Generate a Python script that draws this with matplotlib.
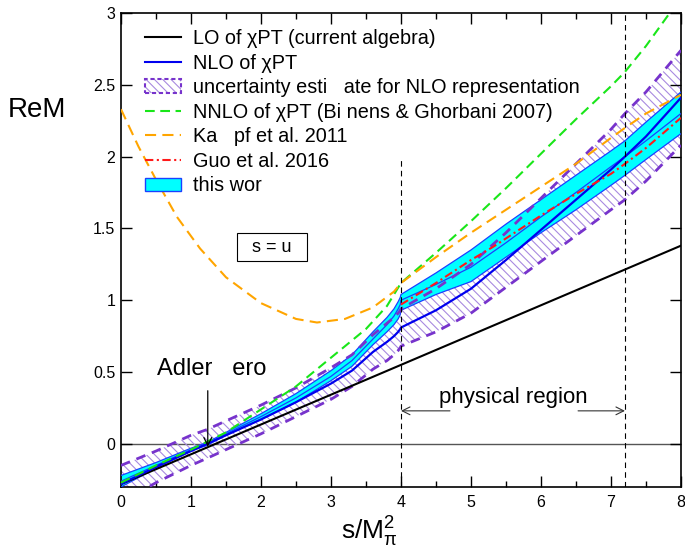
import matplotlib
matplotlib.use('Agg')
import matplotlib.pyplot as plt
from matplotlib.lines import Line2D
from matplotlib.patches import Patch
from matplotlib.legend_handler import HandlerTuple

plt.rcParams['font.family'] = ['Liberation Sans', 'DejaVu Sans']
plt.rcParams['mathtext.fontset'] = 'custom'
plt.rcParams['mathtext.rm'] = 'Liberation Sans'
plt.rcParams['mathtext.it'] = 'Liberation Sans:italic'
plt.rcParams['lines.scale_dashes'] = False
plt.rcParams['hatch.linewidth'] = 0.8

# ---------------- data ----------------
lo_x = [0.0, 8.0]
lo_y = [-0.28, 1.38]

s_grid = [0.0, 0.5, 1.0, 1.23, 1.5, 2.0, 2.5, 3.0, 3.3, 3.6, 3.8, 3.9, 3.96, 3.99,
          4.0, 4.5, 5.0, 5.5, 6.0, 6.5, 7.0, 7.2, 7.5, 8.0]
nlo_y = [-0.28, -0.16, -0.05, 0.0, 0.06, 0.17, 0.29, 0.42, 0.51, 0.64, 0.71, 0.75, 0.78, 0.80,
         0.81, 0.93, 1.08, 1.28, 1.49, 1.70, 1.91, 2.00, 2.14, 2.41]
unc_upper = [-0.15, -0.05, 0.06, 0.10, 0.16, 0.27, 0.39, 0.53, 0.62, 0.76, 0.84, 0.88, 0.91, 0.93,
             0.94, 1.08, 1.25, 1.47, 1.71, 1.95, 2.19, 2.30, 2.45, 2.74]
unc_lower = [-0.41, -0.27, -0.15, -0.10, -0.04, 0.07, 0.19, 0.31, 0.40, 0.52, 0.58, 0.62, 0.65, 0.67,
             0.68, 0.78, 0.91, 1.09, 1.27, 1.45, 1.63, 1.70, 1.83, 2.08]
tw_upper = [-0.22, -0.13, -0.03, 0.01, 0.08, 0.21, 0.35, 0.51, 0.62, 0.78, 0.88, 0.94, 0.99, 1.02,
            1.04, 1.19, 1.35, 1.53, 1.70, 1.87, 2.04, 2.11, 2.24, 2.45]
tw_center = [-0.26, -0.15, -0.04, 0.0, 0.07, 0.19, 0.32, 0.47, 0.58, 0.73, 0.83, 0.89, 0.94, 0.97,
             1.00, 1.11, 1.23, 1.40, 1.58, 1.75, 1.93, 2.00, 2.11, 2.30]
tw_lower = [-0.30, -0.17, -0.05, -0.01, 0.06, 0.17, 0.29, 0.44, 0.54, 0.69, 0.78, 0.83, 0.87, 0.90,
            0.93, 1.04, 1.13, 1.30, 1.47, 1.63, 1.80, 1.87, 1.98, 2.16]

nnlo_x = [0.0, 0.5, 1.0, 1.5, 2.0, 2.5, 3.0, 3.5, 3.8, 4.0, 4.5, 5.0, 5.5, 6.0, 6.5, 7.0, 7.2, 7.5, 7.84, 8.0]
nnlo_y = [-0.27, -0.15, -0.04, 0.08, 0.24, 0.40, 0.60, 0.80, 0.96, 1.12, 1.33, 1.55, 1.78, 2.02, 2.26,
          2.49, 2.59, 2.77, 3.0, 3.1]

kampf_x = [0.0, 0.25, 0.5, 0.8, 1.13, 1.5, 2.0, 2.5, 2.8, 3.2, 3.6, 3.9, 4.0, 4.5, 5.0, 5.5, 6.0, 6.5,
           7.0, 7.2, 7.5, 8.0]
kampf_y = [2.33, 2.07, 1.84, 1.58, 1.36, 1.16, 0.98, 0.87, 0.845, 0.87, 0.95, 1.06, 1.12, 1.30, 1.47,
           1.63, 1.79, 1.95, 2.13, 2.20, 2.30, 2.43]

guo_x = [4.0, 4.5, 5.0, 5.31, 6.0, 6.5, 7.0, 7.2, 7.5, 8.0]
guo_y = [0.97, 1.12, 1.28, 1.37, 1.59, 1.74, 1.88, 1.95, 2.06, 2.27]

threshold = 4.0
threshold_line_top = 2.0
phys_end = 7.2
adler_zero = 1.24

legend_labels = ['LO of χPT (current algebra)',
                 'NLO of χPT',
                 'uncertainty esti   ate for NLO representation',
                 'NNLO of χPT (Bi nens & Ghorbani 2007)',
                 'Ka   pf et al. 2011',
                 'Guo et al. 2016',
                 'this wor']

# ---------------- styles ----------------
c_green = '#19e619'
c_orange = '#ffa500'
c_red = '#ff1a1a'
c_blue = '#0000ee'
c_band_edge = '#1a40ff'
c_cyan = '#00ffff'
c_purple = '#7733cc'
c_hatch = '#a88ae0'

fig = plt.figure(figsize=(6.85, 5.52), dpi=100)
ax = fig.add_axes([0.1766, 0.1178, 0.8175, 0.8587])

# uncertainty (hatched) band
ax.fill_between(s_grid, unc_lower, unc_upper, facecolor='none', edgecolor=c_hatch,
                hatch='\\\\\\\\', linewidth=0, zorder=1)
# this work band
ax.fill_between(s_grid, tw_lower, tw_upper, facecolor=c_cyan, edgecolor='none', zorder=2)
for arr in (tw_upper, tw_center, tw_lower):
    ax.plot(s_grid, arr, color=c_band_edge, lw=0.9, zorder=3)
# hatched band borders (dashed)
for arr in (unc_upper, unc_lower):
    ax.plot(s_grid, arr, color=c_purple, lw=2.0, dashes=(7, 5), zorder=4)

ax.axhline(0, color='#555555', lw=1.0, zorder=0.5)
ax.plot(lo_x, lo_y, color='black', lw=1.5, zorder=5)
ax.plot(s_grid, nlo_y, color=c_blue, lw=1.6, zorder=5)
ax.plot(nnlo_x, nnlo_y, color=c_green, lw=1.5, dashes=(7, 4), zorder=5)
ax.plot(kampf_x, kampf_y, color=c_orange, lw=1.5, dashes=(8, 4.5), zorder=5)
ax.plot(guo_x, guo_y, color=c_red, lw=1.5, dashes=(6, 2.5, 1.5, 2.5), zorder=6)

ax.vlines(threshold, -0.3, threshold_line_top, colors='black', lw=0.8, linestyles=(0, (4, 3)), zorder=6)
ax.axvline(phys_end, color='black', lw=0.8, linestyle=(0, (4, 3)), zorder=6)

ax.set_xlim(0, 8)
ax.set_ylim(-0.3, 3)
ax.set_xticks(range(0, 9))
ax.set_xticks([i + 0.5 for i in range(8)], minor=True)
ax.set_yticks([0, 0.5, 1, 1.5, 2, 2.5, 3])
ax.set_yticklabels(['0', '0.5', '1', '1.5', '2', '2.5', '3'])
ax.tick_params(which='both', direction='in', top=True, right=True, width=1.0, labelsize=11.5)
ax.tick_params(which='major', length=8)
ax.tick_params(which='minor', length=4)
ax.tick_params(axis='x', pad=6)
ax.tick_params(axis='y', pad=4)
for sp in ax.spines.values():
    sp.set_linewidth(1.2)

# annotations
ax.annotate('', xy=(adler_zero, -0.02), xytext=(adler_zero, 0.37),
            arrowprops=dict(arrowstyle='->', lw=0.9, color='black', shrinkA=0, shrinkB=0,
                            mutation_scale=14), zorder=7)
ax.text(1.29, 0.52, 'Adler   ero', fontsize=17, ha='center', va='center', zorder=7)
ax.text(5.6, 0.32, 'physical region', fontsize=16, ha='center', va='center', zorder=7)
ax.annotate('', xy=(threshold, 0.23), xytext=(4.7, 0.23),
            arrowprops=dict(arrowstyle='->', lw=0.8, color='#333333', shrinkA=0, shrinkB=0,
                            mutation_scale=14))
ax.annotate('', xy=(phys_end, 0.23), xytext=(6.53, 0.23),
            arrowprops=dict(arrowstyle='->', lw=0.8, color='#333333', shrinkA=0, shrinkB=0,
                            mutation_scale=14))
ax.text(2.16, 1.37, '  s = u  ', fontsize=13, ha='center', va='center', zorder=7,
        bbox=dict(boxstyle='square,pad=0.3', fc='white', ec='black', lw=0.8))

fig.text(8 / 685, 1 - 110 / 552, 'ReM', fontsize=20, ha='left', va='center')
fig.text(369 / 685, 1 - 532 / 552, r'$\mathregular{s/M_{\pi}^{2}}$', fontsize=19,
         ha='center', va='center')

# legend
h_hatch = (Patch(facecolor='white', edgecolor=c_hatch, hatch='\\\\\\\\', lw=0),
           Patch(facecolor='none', edgecolor=c_purple, lw=1.5, linestyle=(0, (3, 2))))
handles = [Line2D([], [], color='black', lw=1.5),
           Line2D([], [], color=c_blue, lw=1.5),
           h_hatch,
           Line2D([], [], color=c_green, lw=1.5, dashes=(7, 4)),
           Line2D([], [], color=c_orange, lw=1.5, dashes=(8, 4.5)),
           Line2D([], [], color=c_red, lw=1.5, dashes=(6, 2.5, 1.5, 2.5)),
           Patch(facecolor=c_cyan, edgecolor=c_band_edge, lw=1)]
ax.legend(handles, legend_labels, loc='upper left', bbox_to_anchor=(0.043, 0.966),
          frameon=False, fontsize=14.3, handlelength=1.8, handletextpad=0.6,
          labelspacing=0.28, borderaxespad=0, borderpad=0,
          handler_map={tuple: HandlerTuple(ndivide=1, pad=0)})

fig.savefig('out.png', dpi=100)
